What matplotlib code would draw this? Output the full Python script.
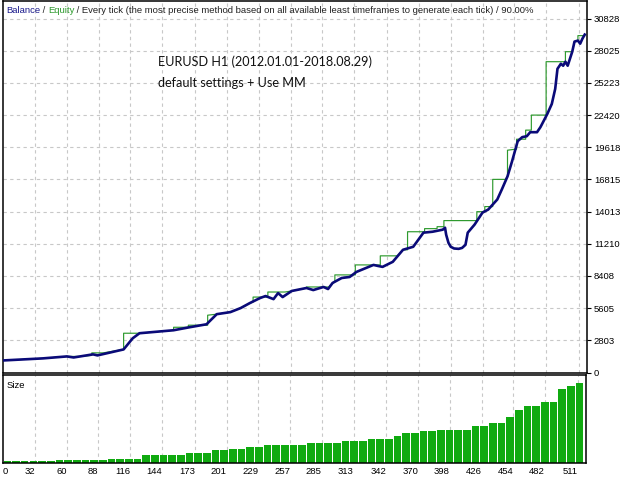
import numpy as np
import matplotlib
matplotlib.use("Agg")
import matplotlib.pyplot as plt

# equity curve (trade number, deposit value)
eq_trade = [4, 39, 60, 66, 83, 87, 110, 118, 124, 154, 168, 183, 192, 204, 213, 221, 230, 235,
            242, 246, 250, 258, 271, 277, 286, 290, 294, 302, 309, 315, 330, 334, 338, 347,
            356, 365, 374, 382, 391, 393, 394, 396, 398, 401, 405, 408, 411, 413, 419, 426,
            431, 439, 443, 448, 452, 455, 457, 461, 465, 468, 474, 477, 483, 487, 490, 492,
            495, 497, 499, 501, 505, 507, 510, 512, 514, 516]
eq_value = [1050, 1230, 1400, 1310, 1580, 1490, 2010, 2980, 3420, 3680, 3940, 4200, 5080, 5260,
            5610, 6040, 6480, 6660, 6390, 6920, 6570, 7100, 7360, 7180, 7450, 7270, 7800, 8230,
            8320, 8760, 9370, 9280, 9200, 9640, 10690, 10950, 12180, 12260, 12440, 12610, 12000,
            11300, 10950, 10800, 10770, 10850, 11120, 12180, 12880, 13930, 14190, 15070, 15940,
            17080, 18390, 19450, 20150, 20500, 20580, 20930, 20930, 21370, 22510, 23390, 24700,
            26450, 26890, 26720, 27070, 26720, 27940, 28820, 28910, 28640, 29080, 29430]

# balance curve
bal_trade = [4, 39, 60, 72, 82, 82, 92, 110, 110, 124, 154, 154, 167, 167, 184, 184, 192, 204,
             213, 221, 224, 224, 237, 237, 252, 258, 271, 271, 291, 292, 296, 296, 314, 314,
             336, 336, 351, 356, 360, 360, 375, 375, 386, 386, 392, 392, 421, 421, 428, 428,
             435, 435, 446, 448, 448, 455, 456, 456, 464, 464, 469, 469, 482, 482, 499, 499,
             505, 507, 510, 510, 516]
bal_value = [1050, 1230, 1400, 1400, 1490, 1710, 1710, 2010, 3420, 3420, 3680, 3940, 3940, 4120,
             4120, 4990, 5080, 5260, 5610, 6040, 6130, 6570, 6570, 7010, 7010, 7100, 7360, 7450,
             7450, 7600, 7900, 8500, 8500, 9370, 9370, 10160, 10160, 10690, 10690, 12260, 12260,
             12530, 12530, 12700, 12700, 13230, 13230, 14010, 14010, 14450, 14450, 16820, 16820,
             17080, 19360, 19450, 19450, 20320, 20320, 21110, 21110, 22420, 22420, 27070, 27070,
             27940, 27940, 28820, 28910, 29340, 29340]

# lot size histogram
sizes = [0.2, 0.2, 0.2, 0.2, 0.2, 0.2,
         0.34, 0.34, 0.34, 0.34, 0.34, 0.34,
         0.44, 0.44, 0.44, 0.44,
         0.80, 0.80, 0.80, 0.80, 0.80,
         1.00, 1.00, 1.00,
         1.27, 1.27, 1.37, 1.37, 1.60, 1.60,
         1.77, 1.77, 1.77, 1.77, 1.77,
         2.00, 2.00, 2.00, 2.00,
         2.27, 2.27, 2.27,
         2.47, 2.47, 2.47,
         2.74, 3.00, 3.00, 3.27, 3.27,
         3.37, 3.37, 3.37, 3.37,
         3.74, 3.74, 4.00, 4.00,
         4.67, 5.34, 5.77, 5.77, 6.17, 6.17,
         7.44, 7.77, 8.10]

y_ticks = [0, 2803, 5605, 8408, 11210, 14013, 16815, 19618, 22420, 25223, 28025, 30828]
x_ticks = [32, 60, 88, 116, 144, 173, 201, 229, 257, 285, 313, 342, 370, 398, 426, 454, 482, 511]

x_min, x_max = 3.8, 518.0
grid_kw = dict(color="#c8c8c8", linestyle=(0, (3, 3)), linewidth=0.8)
tick_font = dict(family="Liberation Sans", size=6.8)

fig = plt.figure(figsize=(6.4, 4.8), dpi=100)
W, H = 640.0, 480.0
ax = fig.add_axes([3 / W, 1 - 372.5 / H, 584 / W, 372 / H])
ax2 = fig.add_axes([3 / W, 1 - 463 / H, 583 / W, 88 / H])

# main panel
for x in x_ticks:
    ax.axvline(x, **grid_kw, zorder=0)
for y in y_ticks[1:]:
    ax.axhline(y, **grid_kw, zorder=0)
ax.plot(bal_trade, bal_value, color="#2e9a2e", linewidth=0.85, zorder=2)
ax.plot(eq_trade, eq_value, color="#0a0a78", linewidth=1.9, zorder=3)
ax.set_xlim(x_min, x_max)
ax.set_ylim(0, 32400)
ax.set_xticks([])
ax.yaxis.tick_right()
ax.set_yticks(y_ticks)
ax.set_yticklabels([str(v) for v in y_ticks], **tick_font)
ax.tick_params(axis="y", length=3, width=0.8, pad=2, colors="black")
for s in ax.spines.values():
    s.set_linewidth(1.1)

# header line
t1 = ax.text(0.005, 0.984, "Balance", transform=ax.transAxes, ha="left", va="top",
             color="#1a1a8c", **tick_font)
t2 = ax.annotate(" / ", xy=(1, 0), xycoords=t1, va="bottom", color="#222222", **tick_font)
t3 = ax.annotate("Equity", xy=(1, 0), xycoords=t2, va="bottom", color="#2e9a2e", **tick_font)
ax.annotate(" / Every tick (the most precise method based on all available least timeframes "
            "to generate each tick) / 90.00%", xy=(1, 0), xycoords=t3, va="bottom",
            color="#222222", **tick_font)

ax.text(140, 27600, "EURUSD H1 (2012.01.01-2018.08.29)\ndefault settings + Use MM",
        family="Lato", fontsize=9.05, va="top", ha="left", linespacing=1.85, color="#111111")

# size panel
bar_w = (516.2 - x_min) / len(sizes)
bar_x = x_min + bar_w * (np.arange(len(sizes)) + 0.5)
for x in x_ticks:
    ax2.axvline(x, **grid_kw, zorder=0)
ax2.bar(bar_x, sizes, width=bar_w * 0.88, color="#10aa10", linewidth=0, zorder=2)
ax2.set_xlim(x_min, x_max)
ax2.set_ylim(0, 8.9)
ax2.set_yticks([])
ax2.set_xticks([x_min] + x_ticks)
labels = ax2.set_xticklabels(["0"] + [str(v) for v in x_ticks], **tick_font)
labels[0].set_ha("left")
for lb in labels[1:]:
    lb.set_ha("right")
ax2.tick_params(axis="x", length=0, pad=3)
ax2.text(0.006, 0.93, "Size", transform=ax2.transAxes, ha="left", va="top", **tick_font)
for s in ax2.spines.values():
    s.set_linewidth(1.1)

fig.savefig("out.png", dpi=100)
